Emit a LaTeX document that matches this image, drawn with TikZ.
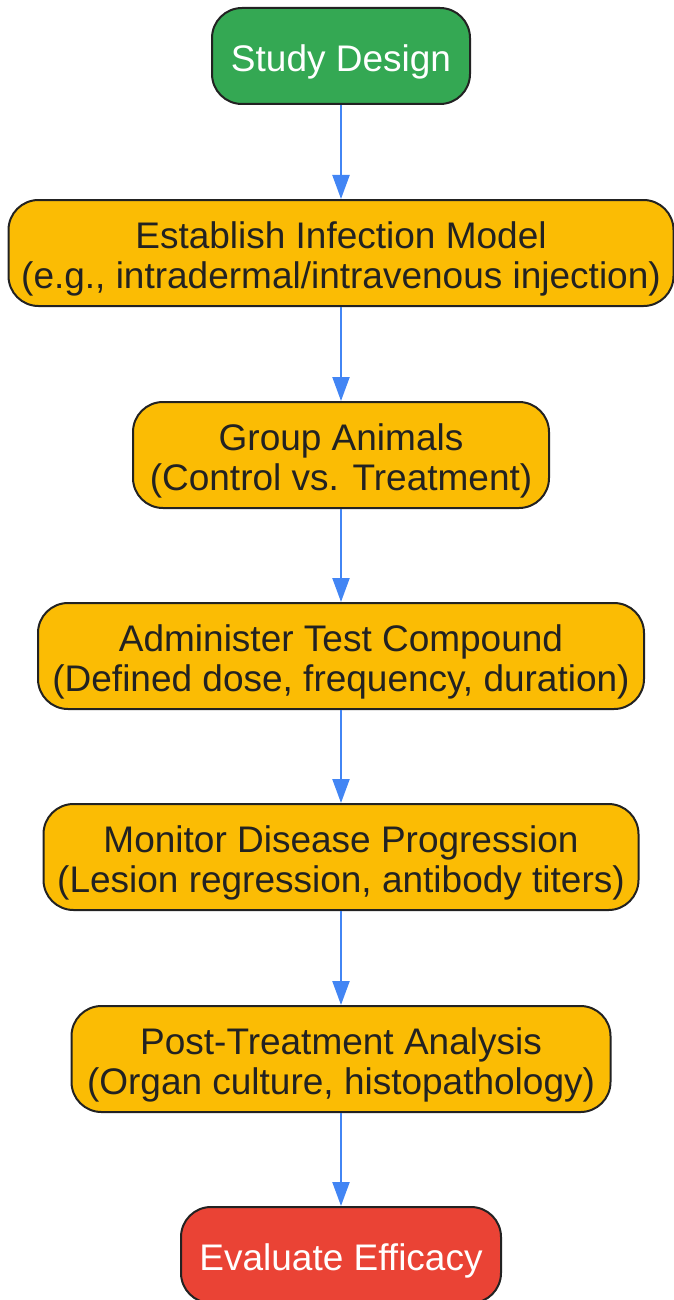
\documentclass[tikz,border=0pt]{standalone}
\usepackage{fontspec}
\setmainfont{Liberation Sans}
\usetikzlibrary{positioning,arrows.meta}
\definecolor{startgreen}{HTML}{34A853}
\definecolor{stepyellow}{HTML}{FBBC04}
\definecolor{endred}{HTML}{EA4335}
\definecolor{flowblue}{HTML}{4285F4}
\definecolor{inkgray}{HTML}{222222}

\begin{document}
\begin{tikzpicture}[x=1pt,y=-1pt,
        box/.style={draw=inkgray,line width=2pt,rounded corners=30pt,align=center,
            inner sep=0pt,text=inkgray,font=\fontsize{37}{40}\selectfont},
        stepbox/.style={box,fill=stepyellow,minimum height=106pt,
            execute at begin node={\rule{0pt}{78pt}}},
        startbox/.style={box,fill=startgreen,text=white,minimum height=96pt,
            execute at begin node={\rule{0pt}{38pt}}},
        endbox/.style={startbox,fill=endred},
        flow/.style={-{Triangle[width=17pt,length=24pt]},draw=flowblue,line width=2.2pt}]
            \useasboundingbox (0,0) rectangle (673,1300);
            \node[startbox,minimum width=258pt] (design) at (341,56) {Study Design};
            \node[stepbox,minimum width=665pt] (model) at (341,253) {Establish Infection Model\\(e.g., intradermal/intravenous injection)};
            \node[stepbox,minimum width=416pt] (groups) at (341,455) {Group Animals\\(Control vs. Treatment)};
            \node[stepbox,minimum width=606pt] (dosing) at (341,656) {Administer Test Compound\\(Defined dose, frequency, duration)};
            \node[stepbox,minimum width=595pt] (monitor) at (341,857) {Monitor Disease Progression\\(Lesion regression, antibody titers)};
            \node[stepbox,minimum width=539pt] (analysis) at (341,1059) {Post-Treatment Analysis\\(Organ culture, histopathology)};
            \node[endbox,minimum width=320pt] (efficacy) at (341,1255) {Evaluate Efficacy};
            \draw[flow] (design) -- (model);
            \draw[flow] (model) -- (groups);
            \draw[flow] (groups) -- (dosing);
            \draw[flow] (dosing) -- (monitor);
            \draw[flow] (monitor) -- (analysis);
            \draw[flow] (analysis) -- (efficacy);
        \end{tikzpicture}
\end{document}
